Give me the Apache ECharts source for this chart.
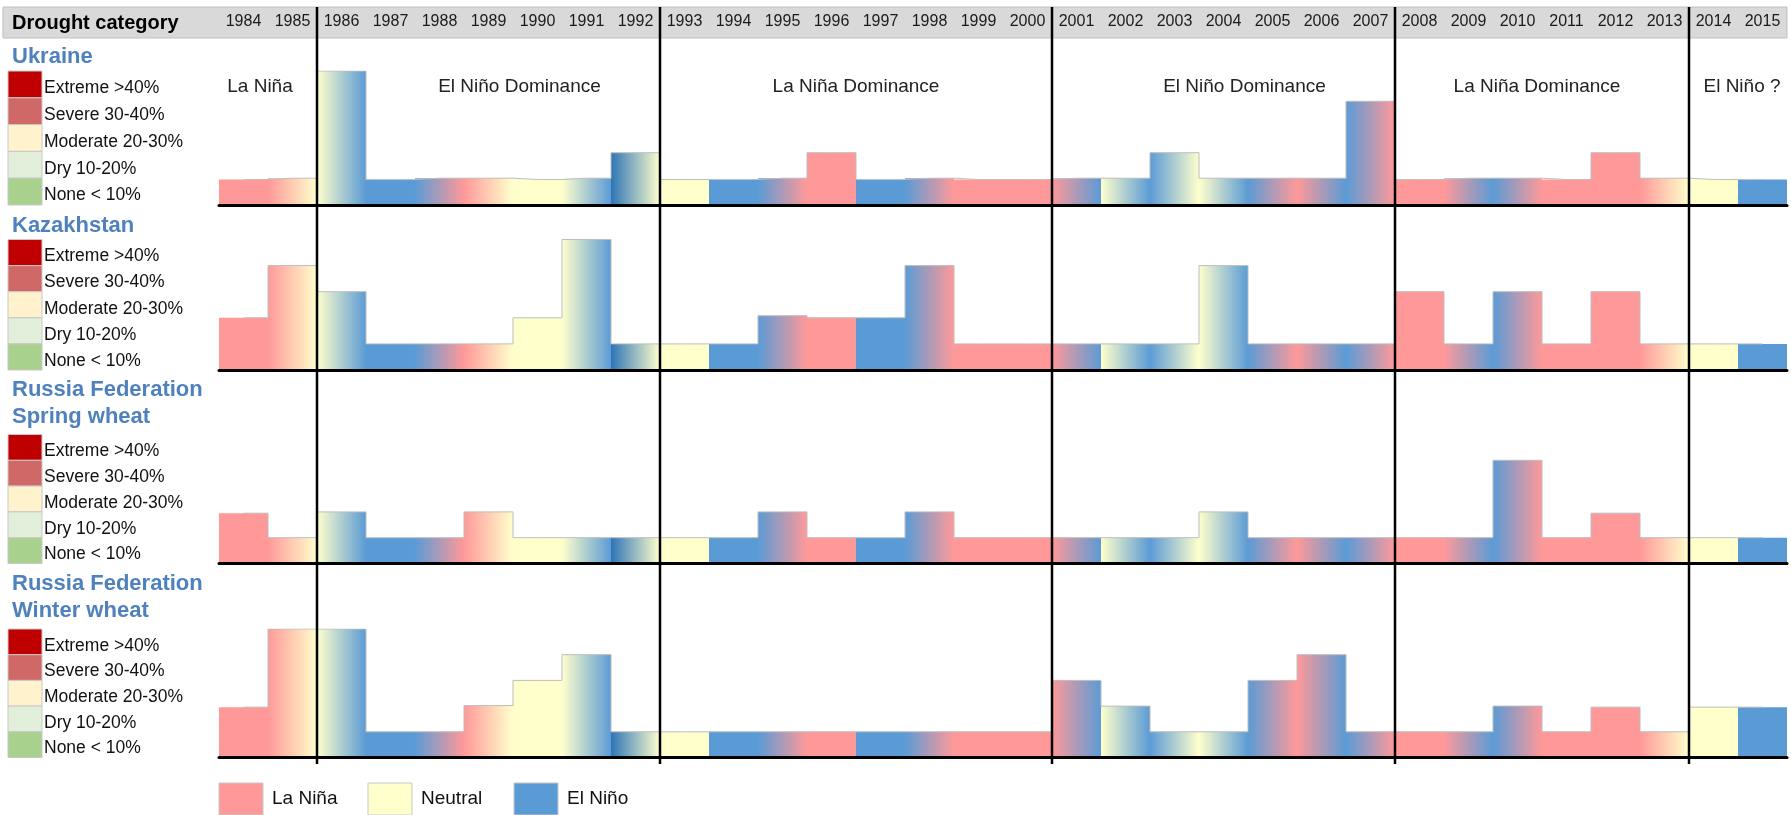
<!DOCTYPE html>
<html><head><meta charset="utf-8">
<script src="https://cdn.jsdelivr.net/npm/echarts@6/dist/echarts.min.js"></script>
<style>html,body{margin:0;padding:0;background:#fff}#c{width:1791px;height:815px}</style>
</head><body><div id="c"></div>
<script>
// ---------------- DATA ----------------
const years = ['1984','1985','1986','1987','1988','1989','1990','1991','1992','1993','1994','1995','1996','1997','1998','1999','2000','2001','2002','2003','2004','2005','2006','2007','2008','2009','2010','2011','2012','2013','2014','2015'];
// ENSO phase at start / end of each year: L = La Niña, N = Neutral, E = El Niño, D = strong El Niño
const ensoStart = ['L','L','N','E','E','L','N','N','D','N','E','E','L','E','E','L','L','L','N','E','N','E','L','E','L','L','E','L','L','L','N','E'];
const ensoEnd   = ['L','N','E','E','L','N','N','E','N','N','E','L','L','E','L','L','L','E','E','N','E','L','E','L','L','E','L','L','L','N','N','E'];
// Drought category level (1 = None ... 5 = Extreme)
const ukraine     = [0.95,1.0,5,0.95,1.0,1.0,0.95,1.0,1.95,0.95, 0.95,1.0,1.95,0.95,1.0,0.95,0.95,1.0,1.0,1.95, 1.0,1.0,1.0,3.87,0.95,1.0,1.0,0.95,1.95,1.0, 0.95,0.95];
const kazakhstan  = [2,4,3,1,1,1,2,5,1,1, 1,2.08,2,2,4,1,1,1,1,1, 4,1,1,1,3,1,3,1,3,1, 1,1];
const springWheat = [1.95,1,2,1,1,2,1,1,1,1, 1,2,1,1,2,1,1,1,1,1, 2,1,1,1,1,1,4,1,1.95,1, 1,1];
const winterWheat = [1.96,5,5,1,1,2.02,3,4,1,1, 1,1,1,1,1,1,1,3,2,1, 1,3,4,1,1,1,2,1,1.96,1, 1.96,1.96];
const regionTitles = [['Ukraine'],['Kazakhstan'],['Russia Federation','Spring wheat'],['Russia Federation','Winter wheat']];
const categoryLabels = ['Extreme >40%','Severe 30-40%','Moderate 20-30%','Dry 10-20%','None < 10%'];
const periodNames = ['La Niña','El Niño Dominance','La Niña Dominance','El Niño Dominance','La Niña Dominance','El Niño ?'];
const periodFirstYear = ['1984','1986','1993','2001','2008','2014'];
const legendNames = ['La Niña','Neutral','El Niño'];

// ---------------- STYLE / LAYOUT ----------------
const FONT = '"Liberation Sans", Arial, sans-serif';
const phaseColor = {L:'#FF9999', N:'#FFFFCC', E:'#5B9BD5', D:'#2E75B6'};
const levelColors = ['#C00000','#D06868','#FFF2CC','#E2EFDA','#A9D18E'];
const legendColors = ['#FF9999','#FFFFCC','#5B9BD5'];
const titleColor = '#4F81BD';
const grids = [{top:71,height:134},{top:239.5,height:130.5},{top:434.5,height:129},{top:629,height:128.5}];
const rows = [ukraine, kazakhstan, springWheat, winterWheat];
const periodShift = [-8, 31, 0, 21, -5, 4];

const chart = echarts.init(document.getElementById('c'), null, {renderer:'canvas'});

function barItems(vals){
  return vals.map((v,i)=>({value:v,itemStyle:{color:new echarts.graphic.LinearGradient(0,0,1,0,[
    {offset:0,color:phaseColor[ensoStart[i]]},{offset:1,color:phaseColor[ensoEnd[i]]}])}}));
}

const gridOpt = grids.map(g=>({left:219,right:4,top:g.top,height:g.height,containLabel:false}));
const xAxes = grids.map((g,i)=>({gridIndex:i,type:'category',data:years,position:'bottom',boundaryGap:true,
  axisLine:{show:true,lineStyle:{color:'#000',width:3}},axisTick:{show:false},axisLabel:{show:false},splitLine:{show:false},z:5}));
xAxes.push({gridIndex:0,type:'category',data:years,position:'top',offset:33,boundaryGap:true,
  axisLine:{show:false},axisTick:{show:false},splitLine:{show:false},
  axisLabel:{show:true,interval:0,margin:8,fontFamily:FONT,fontSize:16,color:'#1a1a1a'}});
const yAxes = grids.map((g,i)=>({gridIndex:i,type:'value',min:0,max:5,show:false}));
const series = [];
rows.forEach((r,i)=>{
  series.push({type:'bar',xAxisIndex:i,yAxisIndex:i,data:barItems(r),barWidth:'100%',barCategoryGap:0,silent:true,z:2});
  series.push({type:'line',xAxisIndex:i,yAxisIndex:i,data:r,step:'middle',symbol:'none',silent:true,
    lineStyle:{color:'#bdbdbd',width:1},z:3});
});

chart.setOption({animation:false,grid:gridOpt,xAxis:xAxes,yAxis:yAxes,series:series});

// ---------------- GRAPHICS (positions from the library's scales) ----------------
const xp = i => chart.convertToPixel({xAxisIndex:0}, i);
const yp = (g,v) => chart.convertToPixel({yAxisIndex:g}, v);
const half = (xp(1)-xp(0))/2;
const rightEdge = xp(years.length-1)+half;
const G = [];
const txt = (text,x,y,size,opts={}) => ({type:'text',z:20,style:Object.assign({text:text,x:x,y:y,fontFamily:FONT,fontSize:size,
  fill:'#000',verticalAlign:'middle',align:'left'},opts)});

// header band
G.push({type:'rect',z:0,shape:{x:3,y:7,width:rightEdge-3,height:31},style:{fill:'#D9D9D9',stroke:'#BFBFBF',lineWidth:1}});
G.push(txt('Drought category',12,23,20,{fontWeight:'bold'}));

// separators
periodFirstYear.forEach((y,k)=>{
  if(k===0) return;
  const x = xp(years.indexOf(y))-half;
  G.push({type:'line',z:30,shape:{x1:x,y1:7,x2:x,y2:764},style:{stroke:'#000',lineWidth:2.5}});
});
// period labels
periodFirstYear.forEach((y,k)=>{
  const s = years.indexOf(y);
  const e = k<periodFirstYear.length-1 ? years.indexOf(periodFirstYear[k+1])-1 : years.length-1;
  const cx = (xp(s)-half + xp(e)+half)/2 + periodShift[k];
  G.push(txt(periodNames[k],cx,87,19,{align:'center',fill:'#222'}));
});

// row titles and category legends
grids.forEach((g,gi)=>{
  const t = regionTitles[gi];
  const top = yp(gi,5);
  if(t.length===1){ G.push(txt(t[0],12,top-14,22,{fontWeight:'bold',fill:titleColor})); }
  else { G.push(txt(t[0],12,top-45,22,{fontWeight:'bold',fill:titleColor}));
         G.push(txt(t[1],12,top-18,22,{fontWeight:'bold',fill:titleColor})); }
  for(let k=0;k<5;k++){
    const y1 = yp(gi,5-k), y2 = yp(gi,4-k);
    G.push({type:'rect',z:10,shape:{x:8,y:y1,width:34,height:y2-y1},style:{fill:levelColors[k],stroke:'#C8C8C8',lineWidth:1}});
    G.push(txt(categoryLabels[k],44,(y1+y2)/2+4,17.5,{fill:'#111'}));
  }
});

// bottom legend
const legX = [219,368,514];
legendNames.forEach((n,k)=>{
  G.push({type:'rect',z:10,shape:{x:legX[k],y:783,width:44,height:32},style:{fill:legendColors[k],stroke:'#C8C8C8',lineWidth:1}});
  G.push(txt(n,legX[k]+53,799,19,{fill:'#111'}));
});

chart.setOption({graphic:G});
</script>
</body></html>
